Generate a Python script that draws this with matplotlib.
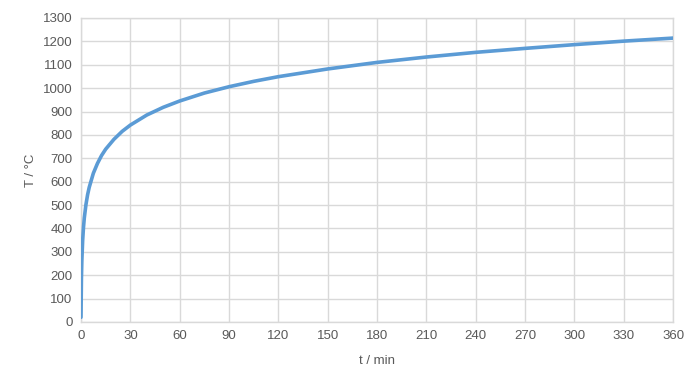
import matplotlib
matplotlib.use('Agg')
import matplotlib.pyplot as plt

## data
# time in minutes
t_min = [0, 0.25, 0.5, 1, 1.5, 2, 3, 4, 5, 7.5, 10, 12.5, 15, 20, 25, 30, 40, 50, 60,
         75, 90, 105, 120, 150, 180, 210, 240, 270, 300, 330, 360]
# temperature in degC
temp_c = [20, 185, 261, 349, 404, 445, 502, 544, 576, 636, 678, 712, 739, 781, 815, 842,
          885, 918, 945, 979, 1006, 1029, 1049, 1082, 1110, 1133, 1153, 1170, 1186, 1201, 1214]

x_ticks = list(range(0, 361, 30))
y_ticks = list(range(0, 1301, 100))

text_col = '#595959'
grid_col = '#d9d9d9'

plt.rcParams['font.family'] = ['Liberation Sans', 'DejaVu Sans']

fig = plt.figure(figsize=(6.93, 3.9), dpi=100)
ax = fig.add_axes([0.1169, 0.1744, 0.8543, 0.7795])

ax.plot(t_min, temp_c, color='#5b9bd5', linewidth=2.6, solid_capstyle='round',
        solid_joinstyle='round', zorder=3)

ax.set_xlim(0, 360)
ax.set_ylim(0, 1300)
ax.set_xticks(x_ticks)
ax.set_yticks(y_ticks)
ax.grid(True, color=grid_col, linewidth=1)
ax.set_axisbelow(True)
for s in ax.spines.values():
    s.set_color(grid_col)
    s.set_linewidth(1)
ax.tick_params(length=0, labelsize=9.5, labelcolor=text_col, pad=6)

ax.set_xlabel('t / min', fontsize=9.5, color=text_col, labelpad=9)
ax.set_ylabel('T / °C', fontsize=9.5, color=text_col, labelpad=4)

fig.savefig('out.png', dpi=100, facecolor='white')
